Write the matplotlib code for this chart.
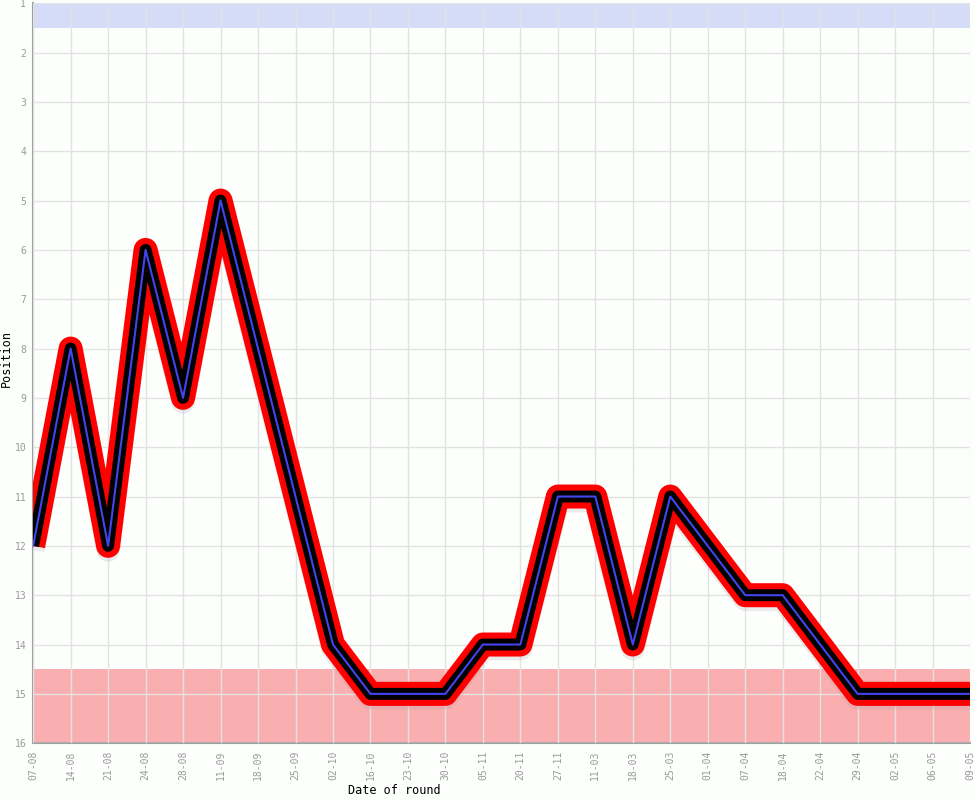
import matplotlib.pyplot as plt
import matplotlib.transforms as mtransforms

dates = ["07-08", "14-08", "21-08", "24-08", "28-08", "11-09", "18-09", "25-09",
         "02-10", "16-10", "23-10", "30-10", "05-11", "20-11", "27-11", "11-03",
         "18-03", "25-03", "01-04", "07-04", "18-04", "22-04", "29-04", "02-05",
         "06-05", "09-05"]
position = [12, 8, 12, 6, 9, 5, 8, 11, 14, 15, 15, 15, 14, 14, 11, 11,
            14, 11, 12, 13, 13, 14, 15, 15, 15, 15]

fig = plt.figure(figsize=(9.75, 8), dpi=100)
fig.patch.set_facecolor("#fdfffd")
ax = fig.add_axes([0.034, 0.071, 0.961, 0.925])
ax.set_facecolor("#fdfffd")

x = list(range(len(dates)))

# zones
ax.axhspan(1, 1.5, color="#d5dcf8", zorder=1, lw=0)
ax.axhspan(14.5, 16, color="#fbaeb0", zorder=1, lw=0)

ax.grid(True, color="#e2e2e2", lw=1)
ax.set_axisbelow(False)
for gl in ax.get_xgridlines() + ax.get_ygridlines():
    gl.set_zorder(2)

# soft shadow under the line
shadow = mtransforms.offset_copy(ax.transData, fig=fig, x=0, y=-4, units="dots")
ax.plot(x, position, color="#999999", lw=17, alpha=0.2, solid_joinstyle="round",
        solid_capstyle="butt", transform=shadow, zorder=3)
ax.plot(x, position, color="#ff0000", lw=17.3, solid_joinstyle="round",
        solid_capstyle="butt", zorder=4)
ax.plot(x, position, color="#000000", lw=8.6, solid_joinstyle="round",
        solid_capstyle="butt", zorder=5)
ax.plot(x, position, color="#4444ee", lw=1.5, solid_joinstyle="round", zorder=6)

ax.set_xlim(0, len(dates) - 1)
ax.set_ylim(16, 1)
ax.set_yticks(range(1, 17))
ax.set_xticks(x)
ax.set_xticklabels(dates, rotation=90)

for s in ["top", "right"]:
    ax.spines[s].set_visible(False)
for s in ["left", "bottom"]:
    ax.spines[s].set_color("#a0a0a0")
    ax.spines[s].set_linewidth(1.5)

ax.tick_params(axis="both", colors="#999999", labelsize=7, length=0, pad=5)
for t in ax.get_xticklabels() + ax.get_yticklabels():
    t.set_family("DejaVu Sans Mono")

ax.set_ylabel("Position", family="DejaVu Sans Mono", fontsize=8.5)
ax.yaxis.set_label_coords(-0.022, 0.52)
ax.set_xlabel("Date of round", family="DejaVu Sans Mono", fontsize=8.5)
ax.xaxis.set_label_coords(0.385, -0.055)

fig.savefig("out.png", dpi=100, facecolor=fig.get_facecolor())
